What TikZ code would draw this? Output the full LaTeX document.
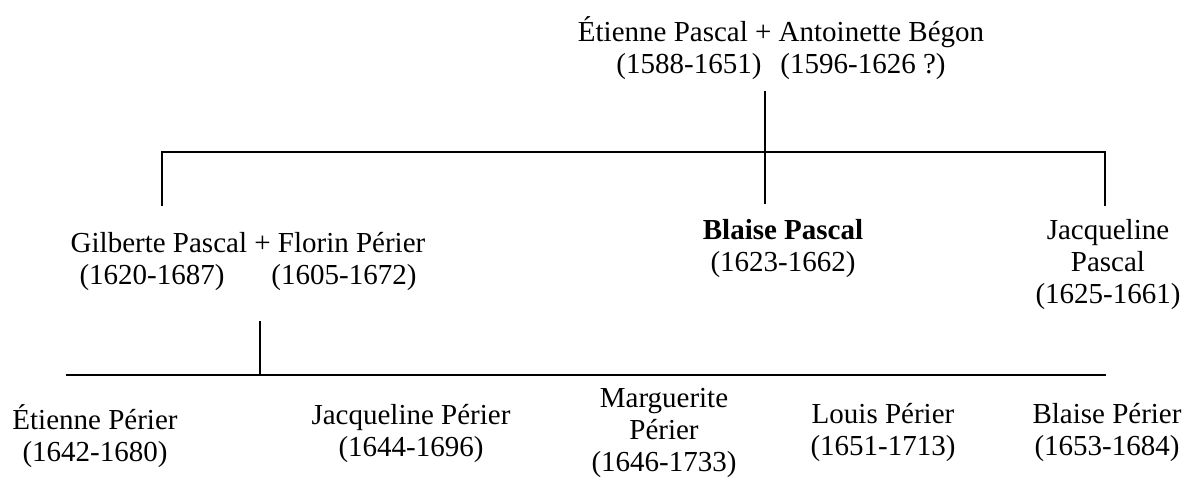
\documentclass[tikz,border=0pt]{standalone}
\usepackage{fontspec}
\setmainfont{Liberation Serif}
\begin{document}
\begin{tikzpicture}[x=0.5pt,y=-0.5pt,
  person/.style={align=center, inner sep=0pt, font=\fontsize{14.5pt}{16pt}\selectfont},
  link/.style={line width=1.4pt, line cap=rect}]
\useasboundingbox (0,0) rectangle (1189,480);
% people
\node[person] (parents) at (781,48.5) {Étienne Pascal + Antoinette Bégon\\(1588-1651)\hspace{9.5pt}(1596-1626 ?)};
\node[person] (gilberte) at (248,262) {Gilberte Pascal + Florin Périer\\(1620-1687)\hspace{23.5pt}(1605-1672)};
\node[person] (blaise) at (783,249) {\textbf{Blaise Pascal}\\(1623-1662)};
\node[person] (jacqueline) at (1108,264.5) {Jacqueline\\Pascal\\(1625-1661)};
\node[person] (etienneP) at (95,436) {Étienne Périer\\(1642-1680)};
\node[person] (jacquelineP) at (411,434) {Jacqueline Périer\\(1644-1696)};
\node[person] (marguerite) at (664,433) {Marguerite\\Périer\\(1646-1733)};
\node[person] (louis) at (883,433) {Louis Périer\\(1651-1713)};
\node[person] (blaiseP) at (1107,433) {Blaise Périer\\(1653-1684)};
% connector points
\coordinate (pdown) at (765,92);
\coordinate (bup) at (765,203);
\coordinate (gup) at (162,205);
\coordinate (jup) at (1105,205);
\coordinate (bar1l) at (162,152);
\coordinate (bar1r) at (1105,152);
\coordinate (gdown) at (260,322);
\coordinate (bar2m) at (260,375);
\coordinate (bar2l) at (67,375);
\coordinate (bar2r) at (1105,375);
% connectors
\draw[link] (pdown) -- (bup);
\draw[link] (gup) -- (bar1l) -- (bar1r) -- (jup);
\draw[link] (gdown) -- (bar2m);
\draw[link] (bar2l) -- (bar2r);
\end{tikzpicture}
\end{document}
